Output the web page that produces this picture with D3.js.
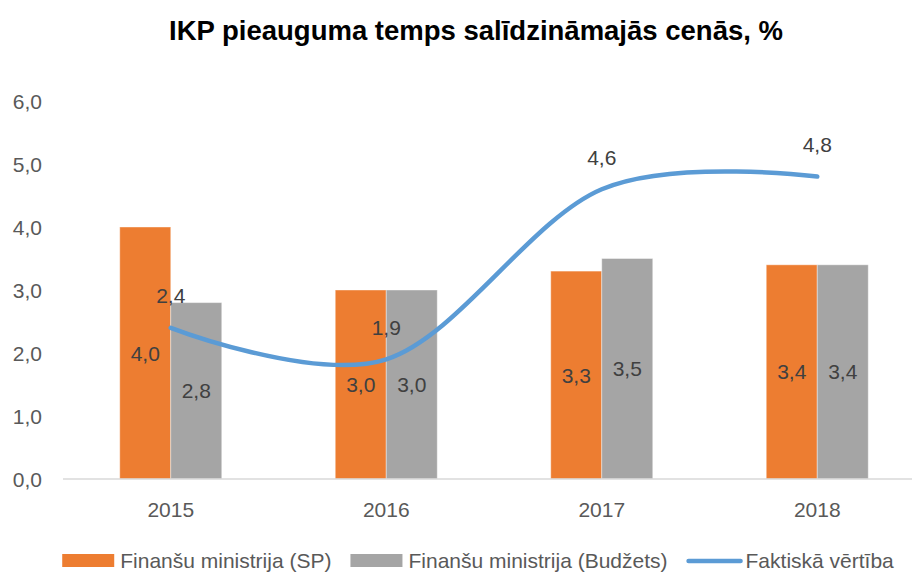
<!DOCTYPE html>
<html>
<head>
<meta charset="utf-8">
<script src="https://cdn.jsdelivr.net/npm/d3@7"></script>
<style>
  body { margin: 0; background: #fff; }
  svg text { font-family: "Liberation Sans", Arial, sans-serif; }
</style>
</head>
<body>
<svg id="chart" width="912" height="572"></svg>
<script>
// chart data
var years = ["2015", "2016", "2017", "2018"];
var finMinSP = [4.0, 3.0, 3.3, 3.4];
var finMinBudzets = [2.8, 3.0, 3.5, 3.4];
var faktiska = [2.4, 1.9, 4.6, 4.8];
var yTicks = [0, 1, 2, 3, 4, 5, 6];
var seriesNames = ["Finanšu ministrija (SP)", "Finanšu ministrija (Budžets)", "Faktiskā vērtība"];

var colors = { sp: "#ED7D31", budz: "#A5A5A5", line: "#5B9BD5" };

var lv = d3.formatLocale({ decimal: ",", thousands: " ", grouping: [3], currency: ["", " €"] });
var fmt = lv.format(".1f");

var svg = d3.select("#chart");

// scales
var x = d3.scaleBand().domain(years).range([63, 925]);
var y = d3.scaleLinear().domain([0, 6]).range([479, 101]);
var barW = 51;
var cx = function (d) { return x(d) + x.bandwidth() / 2; };

// title
svg.append("text")
    .attr("x", 476).attr("y", 30)
    .attr("text-anchor", "middle")
    .attr("dominant-baseline", "central")
    .style("font-size", "27.5px").style("font-weight", "bold")
    .attr("fill", "#000")
    .text("IKP pieauguma temps salīdzināmajās cenās, %");

// y tick labels (no axis line, no grid)
svg.append("g").selectAll("text")
    .data(yTicks).enter().append("text")
    .attr("x", 42).attr("y", function (d) { return y(d); })
    .attr("text-anchor", "end")
    .attr("dominant-baseline", "central")
    .style("font-size", "21px")
    .attr("fill", "#595959")
    .text(function (d) { return fmt(d); });

// bars
var bars = svg.append("g");
bars.selectAll("rect.sp")
    .data(years).enter().append("rect")
    .attr("class", "sp")
    .attr("x", function (d) { return cx(d) - barW; })
    .attr("y", function (d, i) { return y(finMinSP[i]); })
    .attr("width", barW)
    .attr("height", function (d, i) { return y(0) - y(finMinSP[i]); })
    .attr("fill", colors.sp)
    .attr("stroke", "#fff").attr("stroke-opacity", 0.4).attr("stroke-width", 1);

bars.selectAll("rect.budz")
    .data(years).enter().append("rect")
    .attr("class", "budz")
    .attr("x", function (d) { return cx(d); })
    .attr("y", function (d, i) { return y(finMinBudzets[i]); })
    .attr("width", barW)
    .attr("height", function (d, i) { return y(0) - y(finMinBudzets[i]); })
    .attr("fill", colors.budz)
    .attr("stroke", "#fff").attr("stroke-opacity", 0.4).attr("stroke-width", 1);

// x axis line
svg.append("line")
    .attr("x1", x.range()[0]).attr("x2", x.range()[1])
    .attr("y1", y(0)).attr("y2", y(0))
    .attr("stroke", "#d9d9d9").attr("stroke-width", 1.5);

// x labels
svg.append("g").selectAll("text")
    .data(years).enter().append("text")
    .attr("x", cx).attr("y", 509)
    .attr("text-anchor", "middle")
    .attr("dominant-baseline", "central")
    .style("font-size", "21px")
    .attr("fill", "#595959")
    .text(function (d) { return d; });

// smoothed line
var line = d3.line()
    .x(function (d, i) { return cx(years[i]); })
    .y(function (d) { return y(d); })
    .curve(d3.curveCatmullRom.alpha(0));

svg.append("path")
    .datum(faktiska)
    .attr("d", line)
    .attr("fill", "none")
    .attr("stroke", colors.line)
    .attr("stroke-width", 4.5)
    .attr("stroke-linecap", "round");

// data labels
var labels = svg.append("g")
    .style("font-size", "21px")
    .attr("fill", "#404040")
    .attr("text-anchor", "middle")
    .attr("dominant-baseline", "central");

labels.selectAll("text.sp")
    .data(years).enter().append("text")
    .attr("x", function (d) { return cx(d) - barW / 2; })
    .attr("y", function (d, i) { return (y(0) + y(finMinSP[i])) / 2; })
    .text(function (d, i) { return fmt(finMinSP[i]); });

labels.selectAll("text.budz")
    .data(years).enter().append("text")
    .attr("x", function (d) { return cx(d) + barW / 2; })
    .attr("y", function (d, i) { return (y(0) + y(finMinBudzets[i])) / 2; })
    .text(function (d, i) { return fmt(finMinBudzets[i]); });

labels.selectAll("text.line")
    .data(years).enter().append("text")
    .attr("x", cx)
    .attr("y", function (d, i) { return y(faktiska[i]) - 32; })
    .text(function (d, i) { return fmt(faktiska[i]); });

// legend
var legend = svg.append("g");
var lx = 0;
seriesNames.forEach(function (name, i) {
    var item = legend.append("g").attr("transform", "translate(" + lx + ",0)");
    if (i < 2) {
        item.append("rect")
            .attr("x", 0).attr("y", 554).attr("width", 52).attr("height", 13)
            .attr("fill", i === 0 ? colors.sp : colors.budz);
    } else {
        item.append("line")
            .attr("x1", 2).attr("x2", 54).attr("y1", 561).attr("y2", 561)
            .attr("stroke", colors.line).attr("stroke-width", 4.5)
            .attr("stroke-linecap", "round");
    }
    var t = item.append("text")
        .attr("x", i < 2 ? 58 : 59).attr("y", 560.5)
        .attr("dominant-baseline", "central")
        .style("font-size", "21px")
        .attr("fill", "#595959")
        .text(name);
    lx += (i < 2 ? 58 : 59) + t.node().getComputedTextLength() + 19;
});
var legW = lx - 19;
legend.attr("transform", "translate(" + (478 - legW / 2) + ",0)");
</script>
</body>
</html>
